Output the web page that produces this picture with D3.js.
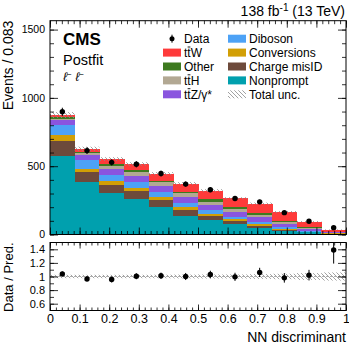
<!DOCTYPE html>
<html>
<head>
<meta charset="utf-8">
<script src="https://cdn.jsdelivr.net/npm/d3@7"></script>
<style>
body { margin: 0; background: #fff; }
text { font-family: "Liberation Sans", Arial, Helvetica, sans-serif; fill: #000; }
</style>
</head>
<body>
<svg id="chart" width="349" height="344"></svg>
<script>
// bin edges of the NN discriminant (12 bins)
const binEdges = [0, 0.0833, 0.1667, 0.25, 0.3333, 0.4167, 0.5, 0.5833, 0.6667, 0.75, 0.8333, 0.9167, 1];

// postfit yields per process
const nonprompt   = [575, 384, 303, 259, 200, 136, 107, 77, 50, 28, 17, 6];
const chargeMisID = [112, 73, 61, 61, 49, 44, 29, 22, 15, 7, 2, 1];
const conversions = [39, 24, 24, 20, 22, 20, 12, 12, 10, 5, 2, 1];
const diboson     = [79, 66, 49, 41, 37, 29, 32, 19, 19, 12, 7, 2];
const ttZ         = [32, 34, 42, 49, 44, 49, 35, 37, 32, 24, 15, 5];
const ttH         = [12, 14, 26, 29, 29, 25, 26, 22, 17, 15, 7, 3];
const other       = [10, 10, 12, 15, 7, 7, 18, 12, 17, 10, 7, 2];
const ttW         = [15, 22, 35, 42, 57, 63, 63, 64, 66, 64, 37, 15];

// data
const data    = [898, 614, 528, 514, 446, 369, 328, 263, 239, 160, 97, 50];
const dataErr = [30, 25, 23, 23, 21, 19, 18, 16, 15, 13, 10, 7];
// ratio panel
const ratio    = [1.038, 0.965, 0.956, 1.004, 1.01, 1.0, 1.03, 0.995, 1.06, 0.98, 1.02, 1.39];
const ratioErr = [0.035, 0.04, 0.043, 0.044, 0.047, 0.052, 0.055, 0.06, 0.068, 0.07, 0.078, 0.2];
// relative total uncertainty
const relUnc   = [0.025, 0.025, 0.025, 0.025, 0.026, 0.028, 0.03, 0.03, 0.035, 0.04, 0.05, 0.06];

const yTicksMain = [0, 500, 1000, 1500];
const yTicksRatio = [0.6, 0.8, 1, 1.2, 1.4];
const yTickLabelsRatio = ["0.6", "0.8", "1", "1.2", "1.4"];
const xTicks = [0, 0.1, 0.2, 0.3, 0.4, 0.5, 0.6, 0.7, 0.8, 0.9, 1];
const xTickLabels = ["0", "0.1", "0.2", "0.3", "0.4", "0.5", "0.6", "0.7", "0.8", "0.9", "1"];

const processes = [
  { key: "nonprompt",   color: "#00a0ae", values: nonprompt },
  { key: "chargeMisID", color: "#6d4a3b", values: chargeMisID },
  { key: "conversions", color: "#d29f05", values: conversions },
  { key: "diboson",     color: "#4da2f6", values: diboson },
  { key: "ttZ",         color: "#8a55df", values: ttZ },
  { key: "ttH",         color: "#b2a893", values: ttH },
  { key: "other",       color: "#3d7a1f", values: other },
  { key: "ttW",         color: "#fe3a3a", values: ttW }
];

const svg = d3.select("#chart");

const left = 50, right = 346;
const mainTop = 20.7, mainBottom = 234.5;
const ratTop = 242.5, ratBottom = 310.5;

const x = d3.scaleLinear().domain([0, 1]).range([left, right]);
const y = d3.scaleLinear().domain([0, 1565]).range([mainBottom, mainTop]);
const yr = d3.scaleLinear().domain([0.5, 1.5]).range([ratBottom, ratTop]);

// hatch pattern for uncertainty
const defs = svg.append("defs");
defs.append("pattern")
    .attr("id", "hatch")
    .attr("patternUnits", "userSpaceOnUse")
    .attr("width", 4).attr("height", 4)
    .append("path")
    .attr("d", "M-1,3 l2,2 M0,0 l4,4 M3,-1 l2,2")
    .attr("stroke", "#8a8a8a")
    .attr("stroke-width", 0.8);
defs.append("clipPath").attr("id", "clipRatio")
    .append("rect").attr("x", left).attr("y", ratTop).attr("width", right - left).attr("height", ratBottom - ratTop);

// stacked histogram
const table = binEdges.slice(0, -1).map((lo, i) => {
  const row = { lo: lo, hi: binEdges[i + 1] };
  processes.forEach(p => row[p.key] = p.values[i]);
  return row;
});
const stack = d3.stack().keys(processes.map(p => p.key))(table);

svg.append("g").attr("shape-rendering", "crispEdges").selectAll("g")
  .data(stack)
  .join("g")
  .attr("fill", (d, i) => processes[i].color)
  .selectAll("rect")
  .data(d => d)
  .join("rect")
  .attr("x", d => x(d.data.lo))
  .attr("width", d => x(d.data.hi) - x(d.data.lo) + 0.6)
  .attr("y", d => y(d[1]))
  .attr("height", d => y(d[0]) - y(d[1]));

// total uncertainty on the stack
const totals = stack[stack.length - 1].map(d => d[1]);
svg.append("g").selectAll("rect")
  .data(totals)
  .join("rect")
  .attr("x", (d, i) => x(binEdges[i]))
  .attr("width", (d, i) => x(binEdges[i + 1]) - x(binEdges[i]))
  .attr("y", (d, i) => y(d * (1 + relUnc[i])))
  .attr("height", (d, i) => y(d * (1 - relUnc[i])) - y(d * (1 + relUnc[i])))
  .attr("fill", "url(#hatch)");

// data points
const centers = binEdges.slice(0, -1).map((lo, i) => (lo + binEdges[i + 1]) / 2);
const gData = svg.append("g");
gData.selectAll("line")
  .data(data)
  .join("line")
  .attr("x1", (d, i) => x(centers[i])).attr("x2", (d, i) => x(centers[i]))
  .attr("y1", (d, i) => y(d + dataErr[i])).attr("y2", (d, i) => y(d - dataErr[i]))
  .attr("stroke", "#000").attr("stroke-width", 1);
gData.selectAll("circle")
  .data(data)
  .join("circle")
  .attr("cx", (d, i) => x(centers[i]))
  .attr("cy", d => y(d))
  .attr("r", 2.7)
  .attr("fill", "#000");

// ratio panel
const gRat = svg.append("g").attr("clip-path", "url(#clipRatio)");
gRat.selectAll("rect")
  .data(relUnc)
  .join("rect")
  .attr("x", (d, i) => x(binEdges[i]))
  .attr("width", (d, i) => x(binEdges[i + 1]) - x(binEdges[i]))
  .attr("y", d => yr(1 + d))
  .attr("height", d => yr(1 - d) - yr(1 + d))
  .attr("fill", "url(#hatch)");
gRat.append("line")
  .attr("x1", left).attr("x2", right)
  .attr("y1", yr(1)).attr("y2", yr(1))
  .attr("stroke", "#999").attr("stroke-width", 0.8).attr("stroke-dasharray", "2,2");
gRat.selectAll("line.err")
  .data(ratio)
  .join("line")
  .attr("class", "err")
  .attr("x1", (d, i) => x(centers[i])).attr("x2", (d, i) => x(centers[i]))
  .attr("y1", (d, i) => yr(d + ratioErr[i])).attr("y2", (d, i) => yr(d - ratioErr[i]))
  .attr("stroke", "#000").attr("stroke-width", 1);
gRat.selectAll("circle")
  .data(ratio)
  .join("circle")
  .attr("cx", (d, i) => x(centers[i]))
  .attr("cy", d => yr(d))
  .attr("r", 2.7)
  .attr("fill", "#000");

// axes (ticks pointing inwards, like ROOT)
function ticks(axis, transform) {
  const g = svg.append("g").attr("transform", transform).call(axis);
  g.select(".domain").remove();
  g.selectAll(".tick line").attr("stroke", "#000").attr("stroke-width", 0.8);
  return g;
}
const minorMain = d3.range(0, 1600, 100);
const minorX = d3.range(0, 1.001, 0.02);
const minorRat = [0.6, 0.7, 0.8, 0.9, 1.0, 1.1, 1.2, 1.3, 1.4];

// main y
ticks(d3.axisLeft(y).tickValues(yTicksMain).tickSize(-8).tickPadding(5).tickFormat(d3.format("d")), `translate(${left},0)`)
  .selectAll("text").style("font-size", "10.5px");
ticks(d3.axisLeft(y).tickValues(minorMain).tickSize(-4).tickFormat(""), `translate(${left},0)`);
ticks(d3.axisRight(y).tickValues(yTicksMain).tickSize(-8).tickFormat(""), `translate(${right},0)`);
ticks(d3.axisRight(y).tickValues(minorMain).tickSize(-4).tickFormat(""), `translate(${right},0)`);
// main x
ticks(d3.axisBottom(x).tickValues(xTicks).tickSize(-7).tickFormat(""), `translate(0,${mainBottom})`);
ticks(d3.axisBottom(x).tickValues(minorX).tickSize(-3.5).tickFormat(""), `translate(0,${mainBottom})`);
ticks(d3.axisTop(x).tickValues(xTicks).tickSize(-7).tickFormat(""), `translate(0,${mainTop})`);
ticks(d3.axisTop(x).tickValues(minorX).tickSize(-3.5).tickFormat(""), `translate(0,${mainTop})`);
// ratio y
ticks(d3.axisLeft(yr).tickValues(yTicksRatio).tickSize(-8).tickPadding(5).tickFormat((d, i) => yTickLabelsRatio[i]), `translate(${left},0)`)
  .selectAll("text").style("font-size", "11px");
ticks(d3.axisLeft(yr).tickValues(minorRat).tickSize(-4).tickFormat(""), `translate(${left},0)`);
ticks(d3.axisRight(yr).tickValues(yTicksRatio).tickSize(-8).tickFormat(""), `translate(${right},0)`);
ticks(d3.axisRight(yr).tickValues(minorRat).tickSize(-4).tickFormat(""), `translate(${right},0)`);
// ratio x
ticks(d3.axisBottom(x).tickValues(xTicks).tickSize(-6).tickPadding(4).tickFormat((d, i) => xTickLabels[i]), `translate(0,${ratBottom})`)
  .selectAll("text").style("font-size", "12.5px");
ticks(d3.axisBottom(x).tickValues(minorX).tickSize(-3).tickFormat(""), `translate(0,${ratBottom})`);
ticks(d3.axisTop(x).tickValues(xTicks).tickSize(-6).tickFormat(""), `translate(0,${ratTop})`);
ticks(d3.axisTop(x).tickValues(minorX).tickSize(-3).tickFormat(""), `translate(0,${ratTop})`);

// frames
svg.append("rect").attr("x", left).attr("y", mainTop).attr("width", right - left).attr("height", mainBottom - mainTop)
  .attr("fill", "none").attr("stroke", "#000").attr("stroke-width", 1);
svg.append("rect").attr("x", left).attr("y", ratTop).attr("width", right - left).attr("height", ratBottom - ratTop)
  .attr("fill", "none").attr("stroke", "#000").attr("stroke-width", 1);

// titles
svg.append("text").attr("transform", `translate(13,${mainTop}) rotate(-90)`)
  .attr("text-anchor", "end").style("font-size", "14px").text("Events / 0.083");
svg.append("text").attr("transform", `translate(13,${ratTop}) rotate(-90)`)
  .attr("text-anchor", "end").style("font-size", "13px").text("Data / Pred.");
svg.append("text").attr("x", right).attr("y", 342)
  .attr("text-anchor", "end").style("font-size", "14px").text("NN discriminant");

const hdr = svg.append("text").attr("x", 345).attr("y", 16).attr("text-anchor", "end").style("font-size", "14px");
hdr.append("tspan").text("138 fb");
hdr.append("tspan").attr("dy", -5).style("font-size", "10px").text("-1");
hdr.append("tspan").attr("dy", 5).text(" (13 TeV)");

svg.append("text").attr("x", 63).attr("y", 45).style("font-size", "17px").style("font-weight", "bold").text("CMS");
svg.append("text").attr("x", 63).attr("y", 64.5).style("font-size", "14.5px").text("Postfit");
const ll = svg.append("text").attr("x", 63).attr("y", 81).style("font-size", "12.5px").style("font-style", "italic");
ll.append("tspan").text("ℓ");
ll.append("tspan").attr("dy", -4).style("font-size", "8px").text("−");
ll.append("tspan").attr("dy", 4).text(" ℓ");
ll.append("tspan").attr("dy", -4).style("font-size", "8px").text("−");

// legend
const legendItems = [
  { col: 0, row: 0, type: "data", label: "Data" },
  { col: 0, row: 1, type: "box", color: "#fe3a3a", label: "ttW", bar: true },
  { col: 0, row: 2, type: "box", color: "#3d7a1f", label: "Other" },
  { col: 0, row: 3, type: "box", color: "#b2a893", label: "ttH", bar: true },
  { col: 0, row: 4, type: "box", color: "#8a55df", label: "ttZ/γ*", bar: true },
  { col: 1, row: 0, type: "box", color: "#4da2f6", label: "Diboson" },
  { col: 1, row: 1, type: "box", color: "#d29f05", label: "Conversions" },
  { col: 1, row: 2, type: "box", color: "#6d4a3b", label: "Charge misID" },
  { col: 1, row: 3, type: "box", color: "#00a0ae", label: "Nonprompt" },
  { col: 1, row: 4, type: "hatch", label: "Total unc." }
];
const legX = [163, 228], legY0 = 38.7, legDy = 13.9;
const gLeg = svg.append("g");
legendItems.forEach(it => {
  const bx = legX[it.col], cy = legY0 + it.row * legDy;
  if (it.type === "data") {
    gLeg.append("line").attr("x1", bx + 9).attr("x2", bx + 9).attr("y1", cy - 4).attr("y2", cy + 4)
      .attr("stroke", "#000").attr("stroke-width", 1);
    gLeg.append("circle").attr("cx", bx + 9).attr("cy", cy).attr("r", 2.5).attr("fill", "#000");
  } else {
    gLeg.append("rect").attr("x", bx).attr("y", cy - 4).attr("width", 18).attr("height", 8)
      .attr("fill", it.type === "hatch" ? "url(#hatch)" : it.color);
  }
  const tx = bx + 21;
  const t = gLeg.append("text").attr("x", tx).attr("y", cy + 4.3).style("font-size", "12px").text(it.label);
  if (it.bar) {
    // anti-top bar over the second "t"
    const node = t.node();
    const x0 = tx + node.getSubStringLength(0, 1);
    const w = node.getSubStringLength(1, 1);
    gLeg.append("line").attr("x1", x0 + 0.3).attr("x2", x0 + w - 0.3)
      .attr("y1", cy - 5.6).attr("y2", cy - 5.6)
      .attr("stroke", "#000").attr("stroke-width", 0.9);
  }
});
</script>
</body>
</html>
